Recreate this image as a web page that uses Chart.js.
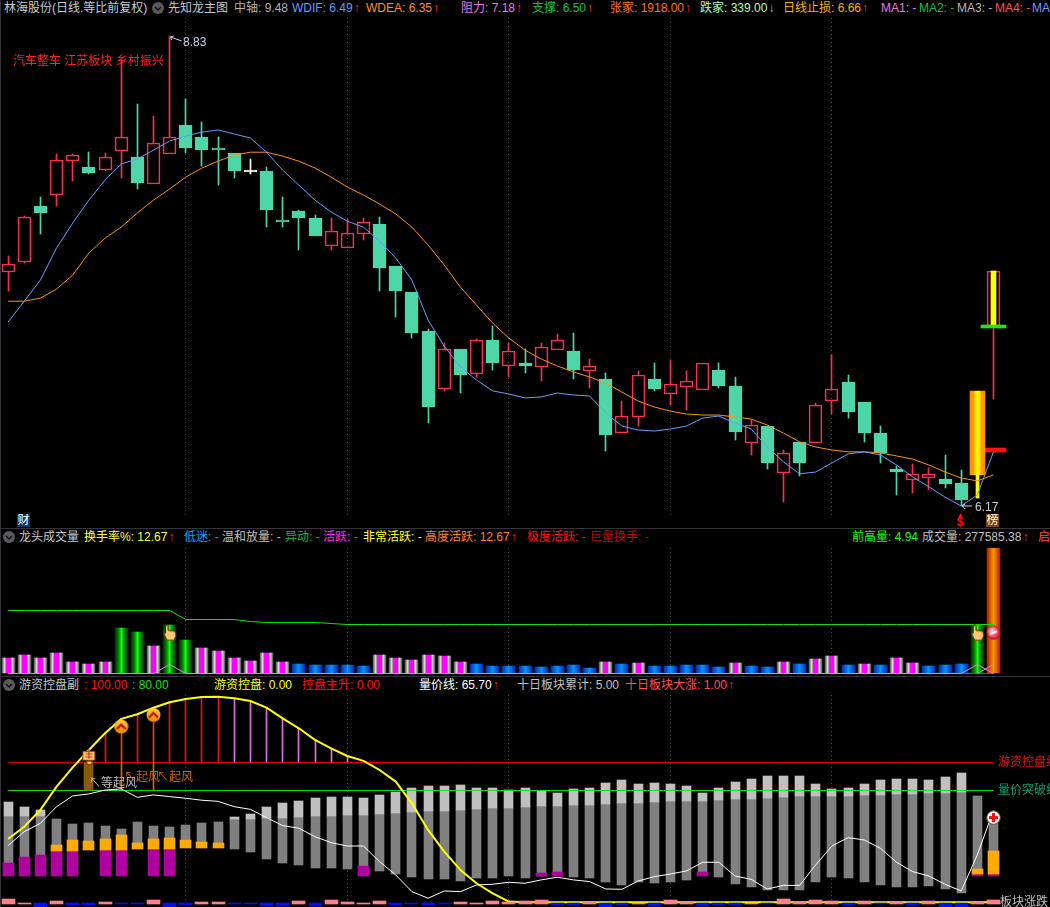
<!DOCTYPE html>
<html lang="zh">
<head>
<meta charset="utf-8">
<title>林海股份</title>
<script src="https://cdn.jsdelivr.net/npm/chart.js@4/dist/chart.umd.js"></script>
<style>
html,body{margin:0;padding:0;background:#000;width:1050px;height:907px;overflow:hidden}
#stage{position:relative;width:1050px;height:907px;overflow:hidden;background:#000;font:12px "Liberation Sans","Noto Sans CJK SC",sans-serif}
canvas{position:absolute;left:0}
.t{position:absolute;white-space:pre;line-height:14px;height:14px}
.rule{position:absolute;background:#34343a}
.badge{position:absolute;width:13px;height:13px;line-height:13px;text-align:center;color:#fff;font-size:12px;overflow:hidden}
svg.btn{position:absolute;width:12px;height:12px}
</style>
</head>
<body>
<div id="stage">
  <canvas id="mainPane" width="1050" height="498" style="top:18px"></canvas>
  <canvas id="volPane" width="1050" height="127" style="top:548px"></canvas>
  <canvas id="ctrlPane" width="1050" height="212" style="top:695px"></canvas>
</div>
<script>
// ---------- categories: trading-day sequence (dates are not shown); three empty slots on the right
const categories = Array.from({length:65},(_,i)=>String(i+1));

// ---------- main pane: prices
const opens  = [7.375,7.432,7.756,7.821,8.026,7.990,7.971,8.088,8.051,7.887,8.069,8.250,8.175,8.107,8.075,7.962,7.965,7.673,7.726,7.685,7.523,7.512,7.592,7.650,7.409,7.263,7.051,6.746,6.954,6.823,7.003,6.865,6.881,6.860,6.949,6.944,6.839,6.797,6.523,6.603,6.797,6.720,6.756,6.741,6.844,6.761,6.474,6.558,6.327,6.479,6.474,6.684,6.782,6.679,6.523,6.346,6.294,6.303,6.299,6.280,6.318,7.077];
const closes = [7.420,7.691,7.715,8.033,8.063,7.953,8.051,8.175,7.893,8.138,8.175,8.107,8.094,8.094,7.965,7.962,7.732,7.661,7.685,7.580,7.609,7.597,7.661,7.398,7.269,7.040,6.654,6.954,6.818,7.003,6.881,6.944,6.865,6.965,7.003,6.844,6.865,6.513,6.608,6.818,6.746,6.771,6.787,6.881,6.761,6.528,6.563,6.376,6.425,6.376,6.664,6.746,6.628,6.523,6.425,6.332,6.323,6.323,6.275,6.198,6.735,7.380];
const highs  = [7.466,7.697,7.809,8.069,8.069,8.081,8.075,8.668,8.383,8.307,8.830,8.415,8.269,8.175,8.075,8.039,7.990,7.809,7.732,7.703,7.685,7.679,7.685,7.691,7.409,7.263,7.061,6.986,6.954,7.008,7.077,6.986,6.954,6.986,7.035,7.040,6.902,6.829,6.684,6.839,6.881,6.897,6.839,6.881,6.881,6.808,6.588,6.558,6.439,6.479,6.674,6.923,6.818,6.679,6.558,6.361,6.371,6.351,6.415,6.341,6.735,7.380];
const lows   = [7.269,7.426,7.592,7.756,7.905,7.947,7.965,7.923,7.857,7.887,8.069,8.075,7.996,7.881,7.923,7.947,7.632,7.632,7.500,7.580,7.500,7.512,7.557,7.269,7.127,7.013,6.573,6.736,6.725,6.808,6.844,6.808,6.829,6.787,6.949,6.797,6.751,6.434,6.523,6.558,6.736,6.664,6.639,6.741,6.751,6.488,6.415,6.346,6.189,6.313,6.474,6.618,6.598,6.479,6.376,6.222,6.232,6.246,6.256,6.170,6.208,6.695];
const wdif   = [7.099,7.213,7.330,7.512,7.656,7.791,7.911,8.008,8.039,8.094,8.150,8.181,8.206,8.219,8.194,8.169,8.081,7.971,7.881,7.791,7.721,7.667,7.632,7.551,7.454,7.330,7.110,6.970,6.860,6.792,6.736,6.720,6.700,6.705,6.725,6.715,6.710,6.623,6.558,6.538,6.533,6.543,6.558,6.598,6.608,6.573,6.543,6.454,6.381,6.323,6.332,6.376,6.420,6.430,6.415,6.366,6.308,6.261,6.212,6.170,6.222,6.430];
const wdea   = [7.213,7.213,7.230,7.280,7.358,7.483,7.568,7.632,7.715,7.791,7.857,7.929,7.984,8.026,8.063,8.081,8.081,8.057,8.026,7.984,7.929,7.869,7.821,7.768,7.709,7.632,7.529,7.415,7.291,7.191,7.093,7.013,6.949,6.902,6.865,6.834,6.808,6.776,6.730,6.684,6.654,6.633,6.618,6.613,6.613,6.603,6.593,6.563,6.523,6.479,6.454,6.439,6.430,6.430,6.425,6.410,6.395,6.366,6.332,6.303,6.289,6.318];
const resistanceLevel = 6.439;
const supportLevel = 7.077;
const limitUpDay = 60;   // index of the orange candle
const lastDay = 61;      // index of the final candle

// ---------- volume pane
const turnover = [1.55,1.85,1.55,2.06,1.15,0.94,1.15,4.58,4.18,2.76,4.89,3.37,2.56,2.26,1.55,1.25,2.06,1.15,0.94,0.84,0.84,0.84,0.74,1.85,1.55,1.35,1.85,1.75,1.15,0.94,0.74,0.74,0.74,0.64,0.74,0.84,0.54,1.15,0.94,1.04,0.74,0.74,0.84,0.84,0.64,1.04,0.74,0.64,1.15,0.94,1.45,1.75,0.84,0.94,0.84,1.55,1.04,0.74,0.84,0.94,4.89,12.67];
const turnoverKind = 'ggggggg' + 'GG' + 'g' + 'GG' + 'gggggg' + 'bbbbb' + 'gggggg' + 'bbbbbbbb' + 'g' + 'b' + 'g' + 'bbbbb' + 'g' + 'bb' + 'g' + 'b' + 'gg' + 'b' + 'g' + 'b' + 'gg' + 'bbb' + 'G' + 'R';
const prevHighVol = [6.37,6.37,6.37,6.37,6.37,6.37,6.37,6.37,6.37,6.37,6.37,5.46,5.46,5.46,5.46,5.27,5.16,5.16,5.16,5.16,5.0,4.94,4.94,4.94,4.94,4.94,4.94,4.94,4.94,4.94,4.94,4.94,4.94,4.94,4.94,4.94,4.94,4.94,4.94,4.94,4.94,4.94,4.94,4.94,4.94,4.94,4.94,4.94,4.94,4.94,4.94,4.94,4.94,4.94,4.94,4.94,4.94,4.94,4.94,4.94,4.94,4.94];
const baseSignalA = Array.from({length:62},(_,i)=> (i===10||i===60) ? 0.84 : 0);
const baseSignalB = Array.from({length:62},(_,i)=> i===61 ? 0.84 : (i===60?0:null));
const baseRed = Array.from({length:62},(_,i)=> (i>=9&&i<=11)||(i>=59&&i<=61) ? 0 : null);
const handVol = Array.from({length:62},(_,i)=> (i===10||i===60) ? 4.1 : null);
const ballVol = Array.from({length:62},(_,i)=> i===61 ? 4.1 : null);

// ---------- control pane
const control = [45.2,54,66,82.6,96.4,108.8,120.7,131,134.3,139,142.9,145.2,146.7,146.9,145.7,143.8,139,131.4,124.3,116,110,104.5,101,94.5,86.2,70.7,51.7,36.2,23.1,13.6,6.4,0.5,0,0,0,0,0,0,0,0,0,0,0,0,0,0,0,0,0,0,0,0,0,0,0,0,0,0,0,0,0,0];
const priceVolLine = [40.5,50.5,56.4,68.3,76,77.4,80.2,81,75,76.7,75.5,74.3,72.9,72.1,68.3,66.4,60.5,54.8,52.9,46.9,42.6,40.2,40.2,29,19.5,7.6,2.9,8.1,7.6,12.4,12.9,14.3,13.6,16,17.9,16,14.8,9.5,9.3,15.2,18.3,20.2,22.4,28.6,28.6,18.8,16.4,9.5,12.1,12.1,26.7,40.2,46.2,44.5,38.6,28.6,21.9,18.8,12.9,8.1,33.8,65.7];
const barTop = [71.7,68.1,66,59.5,56,56.7,54.5,52.4,57.4,54.5,53.8,55.2,56.7,57.4,61,63.1,68.1,71,72.4,74.5,75.2,75.2,74.5,76.7,78.8,81.7,83.1,83.1,83.8,81.7,81.7,80.2,81.7,79.5,78.1,81,81.7,85.2,87.4,84.5,85.2,84.5,83.1,78.1,81.7,86,88.1,90.2,90.2,90.2,84.5,81,81.7,84.5,87.4,88.1,88.1,87.4,89.5,92.4,76,56.4];
const barSplit = [61.7,61.7,61.7,59.5,56,56.7,54.5,52.4,57.4,54.5,53.8,55.2,56.7,57.4,59.5,59.5,60.2,60.2,61,61.7,61.7,62.4,62.4,63.1,63.8,64.5,65.2,65.2,66,66.7,67.4,67.4,68.1,68.8,68.8,69.5,69.5,70.2,71,71,71.7,72.4,72.4,72.4,73.1,73.8,73.8,74.5,75.2,76,76,76,76,76.7,76.7,77.4,77.4,78.1,78.1,78.8,76,56.4];
const barBottom = [28.1,32.4,33.8,41,44.5,43.8,45.2,48.1,42.4,45.2,46,44.5,43.1,42.4,38.1,36,31,28.1,26.7,24.5,24.5,23.8,26,22.4,20.2,18.1,16.7,16.7,15.2,17.4,17.4,18.8,17.4,18.8,21.7,18.1,17.4,14.5,12.4,14.5,13.8,14.5,16,21.7,18.1,13.1,11,8.8,8.8,8.8,14.5,18.1,17.4,14.5,12.4,11,11,11.7,9.5,6.7,23.8,36.7];
// [day index, lower, upper]
const orangeBlocks = [[3,36.7,41],[4,36.7,44.5],[5,37.4,43.8],[6,37.4,45.2],[7,37.4,48.1],[8,38.1,42.4],[9,38.1,45.2],[10,38.1,46],[11,38.8,44.5],[12,38.8,43.1],[13,38.8,42.4],[60,20.2,23.8],[61,20.2,36.7]];
// [day index, upper] with a common floor
const magentaFloor = 18.8;
const magentaBlocks = [[0,28.1],[1,32.4],[2,33.8],[3,36.7],[4,36.7],[6,37.4],[7,37.4],[9,38.1],[10,38.1],[22,26],[33,21],[34,21.7],[43,21.7],[60,20.2],[61,20.2]];
const blockChange = [2.4,-.5,-3.1,1,-1.9,-1.9,.3,-1.2,-1.2,1.7,-3.1,-1.9,.3,.3,-1.2,-1.2,-2.6,-2.6,1,-2.6,1.7,.3,-.5,1,-1.9,-1.2,-1.9,-1.2,.3,-.5,1,.3,1,1.7,-1.9,-1.9,.3,-3.1,-1.9,-.5,-2.6,1.7,.3,-2.6,-1.9,-1.9,-.5,-1.2,2.4,.3,1.7,1,-1.9,1,-1.2,.3,-1.9,1,-3.1,-3.1,.3,1.7];
const hotMoneyLevel = 100;
const breakoutLevel = 80;
const stickFirstDay = 5, stickLastDay = 21, stickPinkFrom = 14;
const waitDay = 5, riseDays = [7,9];
const chevronMarks = [[7,125.5],[9,133.8]];
const fistMark = [5,103.6];
const plusMark = [61,60.5];

// ---------- text shown on the page: [left, centreY, text, colour, arrow, arrowColour]
const UP = '#ff3050', DOWN = '#40d8a8';
const pageLabels = [
 [4,8,'林海股份(日线.等比前复权)','#c4ccd4'],[168,8,'先知龙主图','#c0c8d0'],[234,8,'中轴: 9.48','#b4b4b4'],
 [292,8,'WDIF: 6.49','#6a9cff','↑',UP],[366,8,'WDEA: 6.35','#ff9020','↑',UP],[461,8,'阻力: 7.18','#e878e8','↑',UP],
 [532,8,'支撑: 6.50','#10c040','↑',UP],[610,8,'张家: 1918.00','#ff7020','↑',UP],[700,8,'跌家: 339.00','#b4ffb4','↓',DOWN],
 [783,8,'日线止损: 6.66','#ffb000','↑',UP],[881,8,'MA1: -','#e080e0'],[919,8,'MA2: -','#10c040'],[957,8,'MA3: -','#b8b8b8'],
 [995,8,'MA4: -','#ff5050'],[1032,8,'MA5: -','#6a9cff'],
 [19,537,'龙头成交量','#c0c8d0'],[84,537,'换手率%: 12.67','#ffff40','↑',UP],[184,537,'低迷: -','#10a0ff'],[222,537,'温和放量: -','#c0c0c0'],
 [285,537,'异动: -','#10c040'],[323,537,'活跃: -','#ff20ff'],[363,537,'非常活跃: -','#ffff20'],[425,537,'高度活跃: 12.67','#ff8020','↑',UP],
 [527,537,'极度活跃: -','#ff1010'],[590,537,'巨量换手: -','#b01010'],[852,537,'前高量: 4.94','#10ff10'],[922,537,'成交量: 277585.38','#c0c0c0','↑',UP],[1038,537,'启动','#ff5030'],
 [19,685,'游资控盘副','#c0c8d0'],[84,685,': 100.00','#ff1010'],[132,685,': 80.00','#10e010'],[214,685,'游资控盘: 0.00','#ffff20'],
 [302,685,'控盘主升: 0.00','#ff1010'],[419,685,'量价线: 65.70','#ffffff','↑',UP],[517,685,'十日板块累计: 5.00','#c0c0c0'],[625,685,'十日板块大涨: 1.00','#ff5050','↑',UP],
 [13,61,'汽车整车 江苏板块 乡村振兴','#ff2020'],[183,42,'8.83','#c8d8e8'],[975,507,'6.17','#c8d0d8'],
 [89,783,'↖等起风','#b8b8b8'],[124,777,'↖起风','#c86400'],[157,777,'↖起风','#c86400'],
 [998,762,'游资控盘线','#e01010'],[998,790,'量价突破线','#10a070'],[1000,902,'板块涨跌','#c0c0c0']
];
const red='#f53050', teal='#4fd6a8';

const stage=document.getElementById('stage');
pageLabels.forEach(([x,y,s,c,a,ac])=>{
  const d=document.createElement('div');d.className='t';d.style.left=x+'px';d.style.top=(y-7)+'px';d.style.color=c;d.textContent=s;
  if(a){const sp=document.createElement('span');sp.style.color=ac;sp.style.marginLeft='1px';sp.textContent=a;d.appendChild(sp);}
  stage.appendChild(d);
});
[[158,8],[9,537],[9,685]].forEach(([x,y])=>{
  stage.insertAdjacentHTML('beforeend',`<svg class="btn" style="left:${x-6}px;top:${y-6}px" viewBox="0 0 12 12"><circle cx="6" cy="6" r="6" fill="#5a5a5a"/><path d="M3 5l3 3 3-3" fill="none" stroke="#111" stroke-width="1.5"/></svg>`);
});
stage.insertAdjacentHTML('beforeend',`<div class="rule" style="left:0;top:528px;width:1050px;height:1px"></div><div class="rule" style="left:0;top:676px;width:1050px;height:1px"></div><div class="rule" style="left:0;top:0;width:1px;height:907px"></div>
<div class="badge" style="left:17px;top:514px;background:#103868">财</div><div class="badge" style="left:986px;top:514px;background:#7a4810">榜</div>
<div class="t" style="left:957px;top:508px;color:#ff1010;font-size:7px">▲</div>
<div class="t" style="left:957px;top:515px;color:#ff1010;font-weight:bold">$</div>`);

// ---------- icons used as point styles
function icon(w,h,draw){const c=document.createElement('canvas');c.width=w;c.height=h;draw(c.getContext('2d'));return c;}
const handIcon=icon(15,17,g=>{g.fillStyle='#ffc878';g.strokeStyle='#5a2c00';g.lineWidth=1;g.beginPath();g.moveTo(3.5,1);g.lineTo(6,1);g.lineTo(6,6);g.lineTo(13,7);g.lineTo(14,11);g.lineTo(12,16);g.lineTo(5,16);g.lineTo(1.5,9);g.lineTo(3.5,9);g.closePath();g.fill();g.stroke();});
const ballIcon=icon(15,15,g=>{const r=g.createRadialGradient(6,5,1,7.5,7.5,7.5);r.addColorStop(0,'#ffd0d8');r.addColorStop(.7,'#e83048');r.addColorStop(1,'#801020');g.fillStyle=r;g.beginPath();g.arc(7.5,7.5,7,0,7);g.fill();g.strokeStyle='#fff';g.lineWidth=1.5;g.beginPath();g.moveTo(4,9);g.lineTo(11,6);g.stroke();});
const plusIcon=icon(15,15,g=>{g.fillStyle='#f4f4f4';g.strokeStyle='#604040';g.beginPath();g.arc(7.5,7.5,6.8,0,7);g.fill();g.stroke();g.fillStyle='#f01010';g.fillRect(3,6,9,3);g.fillRect(6,3,3,9);});
const chevronIcon=icon(15,15,g=>{const r=g.createLinearGradient(0,0,0,15);r.addColorStop(0,'#ffd040');r.addColorStop(1,'#f08000');g.fillStyle=r;g.beginPath();g.arc(7.5,7.5,7,0,7);g.fill();g.strokeStyle='#c01010';g.lineWidth=2.2;g.beginPath();g.moveTo(3,10);g.lineTo(7.5,5.5);g.lineTo(12,10);g.stroke();});
const fistIcon=icon(15,17,g=>{g.fillStyle='#ffc878';g.strokeStyle='#804000';g.lineWidth=1;g.fillRect(1,2,13,10);g.strokeRect(1.5,2.5,12,9);g.fillRect(5,12,6,4);g.strokeRect(5.5,12.5,5,3);g.strokeStyle='#c03010';g.beginPath();g.moveTo(7.5,0);g.lineTo(7.5,10);g.moveTo(4,5);g.lineTo(11,5);g.moveTo(4,8);g.lineTo(11,8);g.stroke();});

// the panes fill their canvases edge to edge: no automatic inset for line widths or point sizes
Chart.registry.getController('line').prototype.getMaxOverflow=function(){return 0;};

// ---------- helpers
const days=[...opens.keys()];
const candleColor=i=> i===limitUpDay?'#ffe000': closes[i]>opens[i]?red: closes[i]<opens[i]?teal:'#ffffff';
function hgrad(c,w,stops){
  if(c.dataIndex===undefined) return 'transparent';
  const px=c.chart.scales.x.getPixelForValue(c.dataIndex);
  if(!isFinite(px)) return 'transparent';
  const x=Math.floor(px)+.5;
  const g=c.chart.ctx.createLinearGradient(x-w/2,0,x+w/2,0);
  stops.forEach(s=>g.addColorStop(s[0],s[1]));
  return g;
}
const snap={id:'snap',afterDatasetsUpdate(ch){
  ch.data.datasets.forEach((d,i)=>{const m=ch.getDatasetMeta(i);
    if(m.type==='bar'){
      m.data.forEach(el=>{if(!el||el.skip||!isFinite(el.x))return;
        const w=Math.round(el.width);
        el.x=Math.floor(el.x)+(w%2?.5:0);el.y=Math.round(el.y);el.base=Math.round(el.base);});
    } else if(d.crisp){
      m.data.forEach(el=>{if(el&&!el.skip&&isFinite(el.y)) el.y=Math.floor(el.y)+.5;});
    }
  });
}};
const leaders={id:'leaders',afterDatasetsDraw(ch){
  const g=ch.ctx,xs=ch.scales.x,ys=ch.scales.y;
  const hi=Math.max(...highs),lo=Math.min(...lows);
  const ih=highs.indexOf(hi),il=lows.indexOf(lo);
  g.save();g.strokeStyle='#c8d8e8';g.lineWidth=1;
  let x=xs.getPixelForValue(ih),y=ys.getPixelForValue(hi);
  g.beginPath();g.moveTo(x+1,y+1);g.lineTo(x+12,y+5);g.moveTo(x+1,y+1);g.lineTo(x+4,y);g.moveTo(x+1,y+1);g.lineTo(x+2,y+4);g.stroke();
  x=xs.getPixelForValue(il);y=ys.getPixelForValue(lo);
  g.beginPath();g.moveTo(x+1,y);g.lineTo(x+11,y);g.moveTo(x+1,y);g.lineTo(x+4,y-2);g.moveTo(x+1,y);g.lineTo(x+4,y+3);g.stroke();
  g.restore();
}};
const bar=(label,data,thick,color,extra)=>Object.assign({type:'bar',label,data,barThickness:thick,backgroundColor:color,borderWidth:0,borderSkipped:false,grouped:false},extra||{});
const line=(label,data,color,width,extra)=>Object.assign({type:'line',label,data,borderColor:color,borderWidth:width,pointRadius:0,tension:0,fill:false,spanGaps:false,borderJoinStyle:'round'},extra||{});
const marks=(label,data,img,order)=>({type:'line',label,data,showLine:false,pointStyle:img,pointRadius:7,order});
function makeChart(id,datasets,yScale,plugins){
  return new Chart(document.getElementById(id),{
    data:{labels:categories,datasets},
    plugins:[snap].concat(plugins||[]),
    options:{responsive:false,animation:false,maintainAspectRatio:false,layout:{padding:0},events:[],
      plugins:{legend:{display:false},tooltip:{enabled:false},title:{display:false}},
      scales:{
        x:{type:'category',offset:true,display:true,
           ticks:{display:false,autoSkip:false},
           border:{display:false,dash:[1,3]},
           grid:{offset:false,drawTicks:false,color:c=>[11,21,31,41,51].includes(c.index)?'#4a4a4a':'transparent',lineWidth:1}},
        y:Object.assign({display:false,bounds:'data'},yScale)
      }
    }
  });
}

// ---------- main pane
const upperWick=days.map(i=>highs[i]>Math.max(opens[i],closes[i])?[Math.max(opens[i],closes[i]),highs[i]]:null);
const lowerWick=days.map(i=>lows[i]<Math.min(opens[i],closes[i])?[lows[i],Math.min(opens[i],closes[i])]:null);
const bodies=days.map(i=>i===limitUpDay?null:[opens[i],closes[i]]);
const hotBody=days.map(i=>i===limitUpDay?[opens[i],closes[i]]:null);
const lastCore=days.map(i=>i===lastDay?[opens[i],closes[i]]:null);
const greenStub=days.map(i=>i===lastDay?[supportLevel-.008,supportLevel+.008]:null);
const redStub=days.map(i=>i===lastDay?[resistanceLevel-.01,resistanceLevel+.01]:null);
const bodyFill=c=>{if(c.dataIndex===undefined)return 'transparent';const i=c.dataIndex;return closes[i]<opens[i]?teal:(closes[i]===opens[i]?'#fff':'transparent');};
const wickWidthLimit=days.map(i=>i===limitUpDay&&lowerWick[i]?lowerWick[i]:null);
makeChart('mainPane',[
  line('WDIF',wdif,'#6a9cff',1,{order:1}),
  line('WDEA',wdea,'#ff9010',1,{order:2}),
  bar('涨停实体',hotBody,15,c=>hgrad(c,15,[[0,'#ff8c00'],[.25,'#ffa000'],[.36,'#ffe000'],[.5,'#ffff00'],[.64,'#ffe000'],[.75,'#ffa000'],[1,'#ff8c00']]),{order:3}),
  bar('涨停下影',wickWidthLimit,3,'#ffff00',{order:4}),
  bar('末日实体芯',lastCore,5,'#ffff00',{order:5}),
  bar('实体',bodies,13,bodyFill,{borderWidth:1,borderColor:c=>candleColor(c.dataIndex),minBarLength:2,order:6}),
  bar('上影',upperWick,1,c=>candleColor(c.dataIndex),{order:7}),
  bar('下影',lowerWick,1,c=>c.dataIndex===limitUpDay?'transparent':candleColor(c.dataIndex),{order:7}),
  bar('支撑',greenStub,25,'#10f010',{order:2}),
  bar('阻力',redStub,25,'#ff1010',{order:8})
],{type:'logarithmic',min:6.123,max:8.952},[leaders]);

// ---------- volume pane
const kindStops={
  g:[[0,'#505050'],[.12,'#a8a8a8'],[.2,'#dcdcdc'],[.32,'#808080'],[.32,'#ff00ff'],[.68,'#ff00ff'],[.68,'#808080'],[.8,'#dcdcdc'],[.88,'#a8a8a8'],[1,'#505050']],
  G:[[0,'#003000'],[.3,'#009000'],[.5,'#10ff10'],[.7,'#009000'],[1,'#003000']],
  b:[[0,'#0030b0'],[.5,'#0a90ff'],[1,'#0030b0']],
  R:[[0,'#b02000'],[.5,'#ff9800'],[1,'#b02000']]
};
makeChart('volPane',[
  marks('手势',handVol,handIcon,0),
  marks('红球',ballVol,ballIcon,0),
  line('前高量',prevHighVol,'#10e010',1,{order:1,crisp:true}),
  line('信号A',baseSignalA,'#e080e0',1,{order:2,crisp:true}),
  line('信号B',baseSignalB,'#e080e0',1,{order:2,crisp:true}),
  line('基线',baseRed,'#e03000',1,{order:3,crisp:true}),
  bar('换手率',turnover,13,c=>hgrad(c,13,kindStops[turnoverKind[c.dataIndex]]||kindStops.g),{order:4})
],{type:'linear',min:-0.172,max:12.67});

// ---------- control pane
const lightBars=days.map(i=>barTop[i]>barSplit[i]?[barSplit[i],barTop[i]]:null);
const darkBars=days.map(i=>[barBottom[i],barSplit[i]]);
const orangeBars=days.map(i=>{const b=orangeBlocks.find(o=>o[0]===i);return b?[b[1],b[2]]:null;});
const magentaBars=days.map(i=>{const b=magentaBlocks.find(o=>o[0]===i);return b?[magentaFloor,b[1]]:null;});
const changeBars=blockChange.map(v=>v>-.8?[-1.2,v]:[-.5,v]);
const sticks=days.map(i=>i>=stickFirstDay&&i<=stickLastDay?[hotMoneyLevel,control[i]]:null);
const riseSticks=days.map(i=>riseDays.includes(i)?[breakoutLevel,hotMoneyLevel]:null);
const waitBar=days.map(i=>i===waitDay?[breakoutLevel,hotMoneyLevel]:null);
const atMark=(list)=>days.map(i=>{const m=list.find(o=>o[0]===i);return m?m[1]:null;});
makeChart('ctrlPane',[
  marks('起风',atMark(chevronMarks),chevronIcon,0),
  marks('等起风',atMark([fistMark]),fistIcon,0),
  marks('加号',atMark([plusMark]),plusIcon,0),
  bar('板块涨跌',changeBars,13,c=>blockChange[c.dataIndex]>-.8?'#ff8088':'#0010f0',{order:1}),
  line('游资控盘',control,'#ffff00',2,{order:2}),
  line('量价线',priceVolLine,'#ffffff',1,{order:3}),
  bar('等待柱',waitBar,9,'#8a5a08',{order:4}),
  bar('起风柱',riseSticks,1,'#c87000',{order:4}),
  bar('主升柱',sticks,1,c=>riseDays.includes(c.dataIndex)?'#e04810':(c.dataIndex>=stickPinkFrom?'#e070e0':'#e81010'),{order:5}),
  line('100',days.map(()=>hotMoneyLevel),'#e00000',1,{order:6,crisp:true}),
  line('80',days.map(()=>breakoutLevel),'#20d820',1,{order:6,crisp:true}),
  bar('主力',orangeBars,11,'#ffaa00',{order:7}),
  bar('主控',magentaBars,11,'#b000a0',{order:7}),
  bar('浅柱',lightBars,9,'#c0c0c0',{order:8}),
  bar('深柱',darkBars,9,'#808080',{order:8})
],{type:'linear',min:-3.36,max:148.07});
</script>
</body>
</html>
